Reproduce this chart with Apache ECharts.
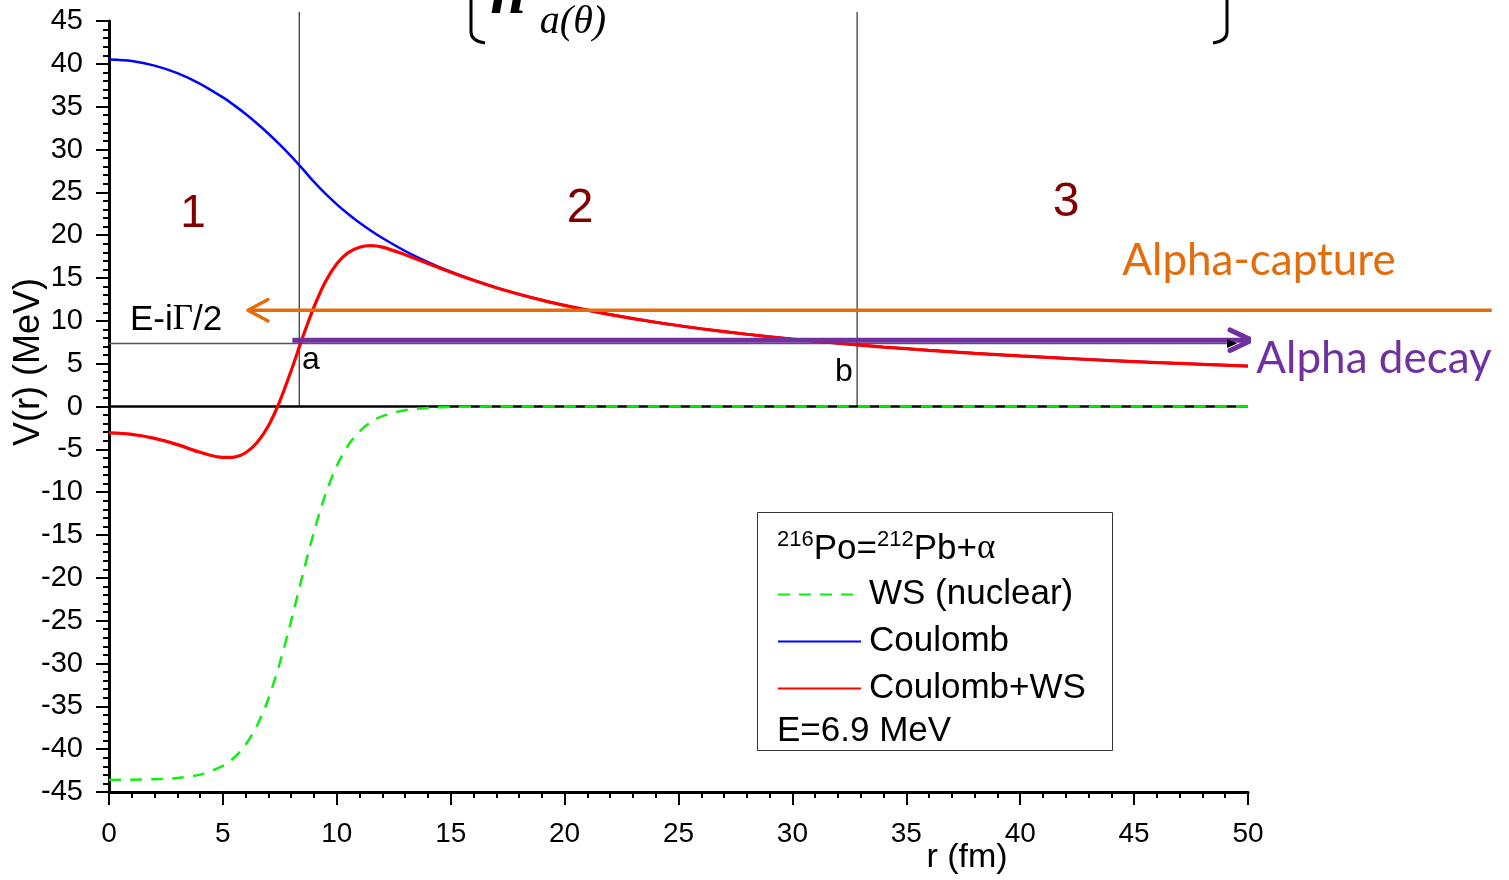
<!DOCTYPE html>
<html>
<head>
<meta charset="utf-8">
<script src="https://cdn.jsdelivr.net/npm/echarts@6/dist/echarts.min.js"></script>
<style>
  html, body { margin: 0; padding: 0; background: #fff; }
  #chart { width: 1509px; height: 880px; }
</style>
</head>
<body>
<div id="chart"></div>
<script>
// radius r (fm) where the potentials are read
const rValues = [0, 1, 2, 3, 4, 5, 5.5, 6, 6.5, 7, 7.5, 8, 8.5, 9, 9.5, 10, 10.5, 11, 11.5, 12,
  13, 14, 15, 16, 17, 18, 19, 20, 22, 24, 26, 28, 30, 32, 34, 36, 38, 40, 42, 44, 46, 48, 50];
// Coulomb (blue)
const coulomb = [40.50, 40.32, 39.79, 38.91, 37.67, 36.08, 35.15, 34.14, 33.03, 31.84, 30.56, 29.19, 27.73, 26.22, 24.84, 23.60, 22.48, 21.45, 20.52, 19.67,
  18.15, 16.86, 15.73, 14.75, 13.88, 13.11, 12.42, 11.80, 10.73, 9.83, 9.08, 8.43, 7.87, 7.38, 6.94, 6.56, 6.21, 5.90, 5.62, 5.36, 5.13, 4.92, 4.72];
// WS nuclear (green dashed)
const wsNuclear = [-43.59, -43.57, -43.51, -43.36, -42.97, -41.95, -40.97, -39.46, -37.23, -34.08, -29.93, -24.98, -19.67, -14.60, -10.28, -6.93, -4.52, -2.89, -1.81, -1.13,
  -0.43, -0.16, -0.06, -0.02, -0.01, 0, 0, 0, 0, 0, 0, 0, 0, 0, 0, 0, 0, 0, 0, 0, 0, 0, 0];
// Coulomb+WS (red)
const total = [-3.09, -3.25, -3.72, -4.45, -5.35, -5.95, -5.90, -5.40, -4.20, -2.24, 0.63, 4.21, 8.06, 11.62, 14.56, 16.67, 17.96, 18.60, 18.78, 18.60,
  17.72, 16.70, 15.67, 14.73, 13.87, 13.11, 12.42, 11.80, 10.73, 9.83, 9.08, 8.43, 7.87, 7.38, 6.94, 6.56, 6.21, 5.90, 5.62, 5.36, 5.13, 4.92, 4.72];

// annotations (data units)
const turningPoints = [8.35, 32.84];          // a, b
const turningTop = 46.05;
const energyLine = [[0, 7.35], [49.3, 7.35]];
const captureArrow = [[60.7, 11.24], [6.1, 11.24]];
const captureHead = [[6.98, 12.49], [6.1, 11.24], [6.98, 9.99]];
const decayArrow = [[8.05, 7.74], [50.16, 7.74]];
const decayHead = [[49.21, 8.94], [50.16, 7.74], [49.21, 6.54]];

const xTicks = { min: 0, max: 50, step: 5 };
const yTicks = { min: -45, max: 45, step: 5 };
const xWideMax = 60.71;   // same r scale, stretched to the right page edge

function pairs(xs, ys) {
  return xs.map((x, i) => [x, ys[i]]);
}

const chart = echarts.init(document.getElementById('chart'));

const SANS = "'Liberation Sans', Arial, sans-serif";
const SERIF = "'Liberation Serif', 'Times New Roman', serif";
const CAL = "Lato, 'Open Sans', sans-serif";

function txt(x, y, text, font, fill, align, extra) {
  return Object.assign({
    type: 'text', x: x, y: y, z: 50,
    style: { text: text, font: font, fill: fill || '#000', align: align || 'center', verticalAlign: 'middle' }
  }, extra || {});
}

function plain(name, data, color, width, extra) {
  return Object.assign({
    name: name, type: 'line', data: data, symbol: 'none', clip: false, silent: true,
    lineStyle: { color: color, width: width }, itemStyle: { color: color }
  }, extra || {});
}

const stroke = { stroke: '#000', lineWidth: 3, fill: null };

const option = {
  animation: false,
  backgroundColor: '#fff',
  grid: [
    { left: 109, right: 261, top: 21, bottom: 88 },
    { left: 109, right: 17, top: 21, bottom: 88 }
  ],
  xAxis: [{
    type: 'value', min: xTicks.min, max: xTicks.max, interval: xTicks.step,
    axisLine: { onZero: false, lineStyle: { color: '#000', width: 3 } },
    axisTick: { length: 13, lineStyle: { color: '#000', width: 2 } },
    minorTick: { show: true, splitNumber: 5, length: 6, lineStyle: { color: '#000', width: 2 } },
    splitLine: { show: false },
    axisLabel: { fontSize: 28, fontFamily: SANS, color: '#000', margin: 28 }
  }, {
    type: 'value', gridIndex: 1, min: 0, max: xWideMax, show: false
  }],
  yAxis: [{
    type: 'value', min: yTicks.min, max: yTicks.max, interval: yTicks.step,
    axisLine: { onZero: false, lineStyle: { color: '#000', width: 3 } },
    axisTick: { length: 13, lineStyle: { color: '#000', width: 2 } },
    minorTick: { show: true, splitNumber: 5, length: 6, lineStyle: { color: '#000', width: 2 } },
    splitLine: { show: false },
    axisLabel: { fontSize: 29, fontFamily: SANS, color: '#000', margin: 26 }
  }, {
    type: 'value', gridIndex: 1, min: yTicks.min, max: yTicks.max, show: false
  }],
  legend: {
    data: ['WS (nuclear)', 'Coulomb', 'Coulomb+WS'],
    orient: 'vertical', left: 777, top: 577, padding: 0,
    itemWidth: 83, itemHeight: 20, itemGap: 12, selectedMode: false,
    itemStyle: { opacity: 0 },
    textStyle: { fontSize: 35, lineHeight: 34, fontFamily: SANS, color: '#000', padding: [0, 0, 0, 3] }
  },
  series: [
    plain('zero', [[0, 0], [50, 0]], '#000', 2.5),
    plain('lineA', [[turningPoints[0], 0], [turningPoints[0], turningTop]], '#000', 1),
    plain('lineB', [[turningPoints[1], 0], [turningPoints[1], turningTop]], '#000', 1),
    {
      name: 'energy', type: 'line', clip: false, silent: true, showSymbol: true,
      data: [
        { value: energyLine[0], symbol: 'none' },
        { value: energyLine[1], symbol: 'triangle', symbolRotate: -90, symbolSize: [9, 10] }
      ],
      lineStyle: { color: '#555', width: 1.5 }, itemStyle: { color: '#000' }
    },
    plain('WS (nuclear)', pairs(rValues, wsNuclear), '#11ee11', 2.5,
      { smooth: 0.3, lineStyle: { color: '#11ee11', width: 2.5, type: [12, 9] } }),
    plain('Coulomb', pairs(rValues, coulomb), '#0000ff', 2.5, { smooth: 0.3 }),
    plain('Coulomb+WS', pairs(rValues, total), '#ff0000', 3.2, { smooth: 0.3 }),
    plain('capture', captureArrow, '#e46c0a', 3.5, { xAxisIndex: 1, yAxisIndex: 1 }),
    plain('captureHead', captureHead, '#e46c0a', 3.5,
      { xAxisIndex: 1, yAxisIndex: 1, lineStyle: { color: '#e46c0a', width: 3.5, cap: 'round', join: 'round' } }),
    plain('decay', decayArrow, '#7030a0', 5),
    plain('decayHead', decayHead, '#7030a0', 5, { lineStyle: { color: '#7030a0', width: 5, cap: 'round', join: 'round' } })
  ],
  graphic: [
    // cropped formula at top
    { type: 'line', z: 50, shape: { x1: 471, y1: 0, x2: 471, y2: 32 }, style: stroke },
    { type: 'bezierCurve', z: 50, shape: { x1: 471, y1: 32, cpx1: 471, cpy1: 41, x2: 485, y2: 43 }, style: stroke },
    { type: 'line', z: 50, shape: { x1: 1227, y1: 0, x2: 1227, y2: 32 }, style: stroke },
    { type: 'bezierCurve', z: 50, shape: { x1: 1227, y1: 32, cpx1: 1227, cpy1: 41, x2: 1213, y2: 43 }, style: stroke },
    { type: 'text', x: 508, y: 28, z: 50, style: { text: 'n', font: 'italic bold 64px ' + SERIF, fill: '#000', align: 'center', verticalAlign: 'bottom' } },
    txt(573, 22, 'a(θ)', 'italic 40px ' + SERIF),
    // axis names
    txt(29, 362, 'V(r) (MeV)', '36px ' + SANS, '#000', 'center', { rotation: Math.PI / 2 }),
    txt(967, 858, 'r (fm)', '34px ' + SANS),
    // region numbers
    txt(193, 214, '1', '46px ' + SANS, '#800000'),
    txt(580, 209, '2', '48px ' + SANS, '#800000'),
    txt(1066, 203, '3', '48px ' + SANS, '#800000'),
    // turning point labels
    txt(311, 360, 'a', '32px ' + SANS),
    txt(844, 372, 'b', '32px ' + SANS),
    {
      type: 'text', x: 130, y: 320, z: 50,
      style: {
        text: '{s|E-i}{g|Γ}{s|/2}', align: 'left', verticalAlign: 'middle',
        rich: { s: { font: '35px ' + SANS, fill: '#000' }, g: { font: '35px ' + SERIF, fill: '#000' } }
      }
    },
    txt(1259, 261, 'Alpha-capture', '44px ' + CAL, '#e46c0a'),
    txt(1374, 359, 'Alpha decay', '44px ' + CAL, '#7030a0'),
    // legend frame and extra lines
    { type: 'rect', z: 40, shape: { x: 757.5, y: 512.5, width: 355, height: 238 }, style: { stroke: '#333', lineWidth: 1, fill: null } },
    {
      type: 'text', x: 777, y: 549, z: 50,
      style: {
        text: '{s|216}{m|Po=}{s|212}{m|Pb+}{g|α}', align: 'left', verticalAlign: 'middle',
        rich: {
          s: { font: '22px ' + SANS, fill: '#000', verticalAlign: 'top', lineHeight: 22 },
          m: { font: '35px ' + SANS, fill: '#000', lineHeight: 40 },
          g: { font: '35px ' + SERIF, fill: '#000', lineHeight: 40 }
        }
      }
    },
    txt(777, 731, 'E=6.9 MeV', '35px ' + SANS, '#000', 'left')
  ]
};

chart.setOption(option);
</script>
</body>
</html>
